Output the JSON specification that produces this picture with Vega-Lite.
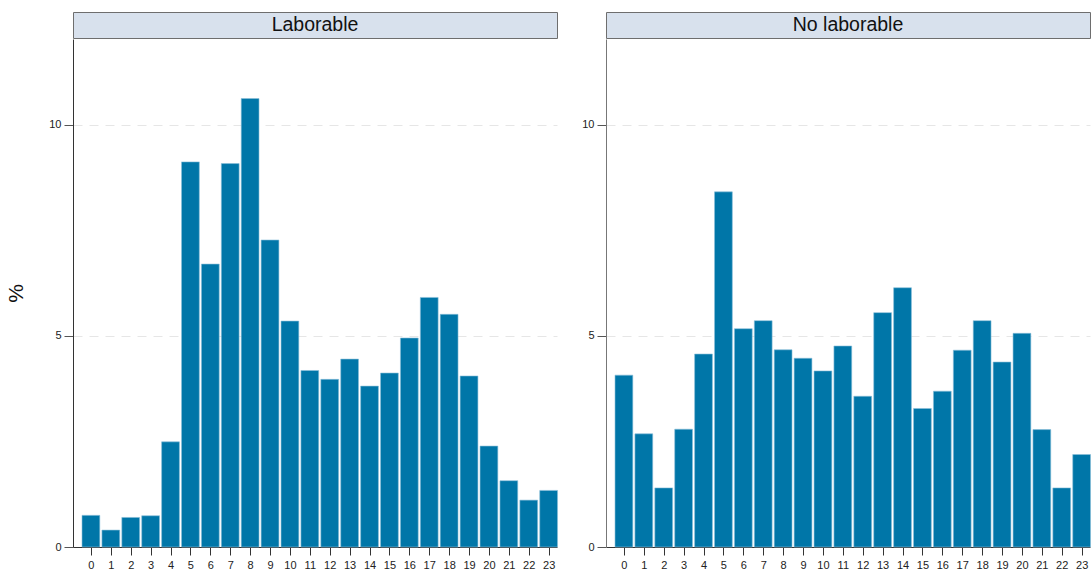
{
  "$schema": "https://vega.github.io/schema/vega-lite/v6.json",
  "padding": {"left": 5, "top": 11, "right": 0, "bottom": 0},
  "background": "white",
  "spacing": 23,
  "config": {
    "font": "Liberation Sans",
    "view": {"stroke": null},
    "concat": {"spacing": 0}
  },
  "datasets": {
    "hours": [
      {"tipo": "Laborable", "hora": 0, "pct": 0.75},
      {"tipo": "Laborable", "hora": 1, "pct": 0.40},
      {"tipo": "Laborable", "hora": 2, "pct": 0.70},
      {"tipo": "Laborable", "hora": 3, "pct": 0.74},
      {"tipo": "Laborable", "hora": 4, "pct": 2.49},
      {"tipo": "Laborable", "hora": 5, "pct": 9.12},
      {"tipo": "Laborable", "hora": 6, "pct": 6.70},
      {"tipo": "Laborable", "hora": 7, "pct": 9.08},
      {"tipo": "Laborable", "hora": 8, "pct": 10.62},
      {"tipo": "Laborable", "hora": 9, "pct": 7.27},
      {"tipo": "Laborable", "hora": 10, "pct": 5.35},
      {"tipo": "Laborable", "hora": 11, "pct": 4.18},
      {"tipo": "Laborable", "hora": 12, "pct": 3.97},
      {"tipo": "Laborable", "hora": 13, "pct": 4.45},
      {"tipo": "Laborable", "hora": 14, "pct": 3.81},
      {"tipo": "Laborable", "hora": 15, "pct": 4.12},
      {"tipo": "Laborable", "hora": 16, "pct": 4.95},
      {"tipo": "Laborable", "hora": 17, "pct": 5.91},
      {"tipo": "Laborable", "hora": 18, "pct": 5.51},
      {"tipo": "Laborable", "hora": 19, "pct": 4.05},
      {"tipo": "Laborable", "hora": 20, "pct": 2.39},
      {"tipo": "Laborable", "hora": 21, "pct": 1.57},
      {"tipo": "Laborable", "hora": 22, "pct": 1.11},
      {"tipo": "Laborable", "hora": 23, "pct": 1.34},
      {"tipo": "No laborable", "hora": 0, "pct": 4.07},
      {"tipo": "No laborable", "hora": 1, "pct": 2.68},
      {"tipo": "No laborable", "hora": 2, "pct": 1.40},
      {"tipo": "No laborable", "hora": 3, "pct": 2.79},
      {"tipo": "No laborable", "hora": 4, "pct": 4.57},
      {"tipo": "No laborable", "hora": 5, "pct": 8.41},
      {"tipo": "No laborable", "hora": 6, "pct": 5.17},
      {"tipo": "No laborable", "hora": 7, "pct": 5.36},
      {"tipo": "No laborable", "hora": 8, "pct": 4.67},
      {"tipo": "No laborable", "hora": 9, "pct": 4.47},
      {"tipo": "No laborable", "hora": 10, "pct": 4.17},
      {"tipo": "No laborable", "hora": 11, "pct": 4.76},
      {"tipo": "No laborable", "hora": 12, "pct": 3.57},
      {"tipo": "No laborable", "hora": 13, "pct": 5.55},
      {"tipo": "No laborable", "hora": 14, "pct": 6.14},
      {"tipo": "No laborable", "hora": 15, "pct": 3.28},
      {"tipo": "No laborable", "hora": 16, "pct": 3.69},
      {"tipo": "No laborable", "hora": 17, "pct": 4.66},
      {"tipo": "No laborable", "hora": 18, "pct": 5.36},
      {"tipo": "No laborable", "hora": 19, "pct": 4.38},
      {"tipo": "No laborable", "hora": 20, "pct": 5.06},
      {"tipo": "No laborable", "hora": 21, "pct": 2.78},
      {"tipo": "No laborable", "hora": 22, "pct": 1.40},
      {"tipo": "No laborable", "hora": 23, "pct": 2.19}
    ],
    "labels": [
      {"tipo": "Laborable"},
      {"tipo": "No laborable"}
    ]
  },
  "hconcat": [
    {
      "spacing": 0,
      "vconcat": [
        {
          "width": 484,
          "height": 26,
          "data": {"name": "labels"},
          "transform": [{"filter": "datum.tipo === 'Laborable'"}],
          "view": {"fill": "#d8e1ed", "stroke": "#6e6e6e", "strokeWidth": 1},
          "mark": {"type": "text", "fontSize": 19.5, "color": "#111111", "baseline": "middle", "align": "center", "font": "Liberation Sans"},
          "encoding": {"text": {"field": "tipo"}}
        },
        {
          "width": 484,
          "height": 508,
          "data": {"name": "hours"},
          "transform": [{"filter": "datum.tipo === 'Laborable'"}],
          "mark": {"type": "bar", "width": 17.8, "color": "#0076a8", "stroke": "#8cc0da", "strokeWidth": 0.6},
          "encoding": {
            "x": {
              "field": "hora", "type": "quantitative",
              "scale": {"domain": [-0.9, 23.42], "nice": false, "zero": false, "padding": 0},
              "axis": {"values": [0,1,2,3,4,5,6,7,8,9,10,11,12,13,14,15,16,17,18,19,20,21,22,23], "title": null, "grid": false, "labelFontSize": 11, "labelColor": "#222222", "tickSize": 8, "tickColor": "#333333", "domainColor": "#333333", "labelPadding": 4, "labelFlush": false, "labelOverlap": false}
            },
            "y": {
              "field": "pct", "type": "quantitative",
              "scale": {"domain": [0, 12.03], "nice": false},
              "axis": {"values": [0, 5, 10], "title": "%", "titleFontSize": 21, "titleFontWeight": "normal", "titleColor": "#111111", "titlePadding": 22, "labelFontSize": 11, "labelColor": "#222222", "tickSize": 9, "tickColor": "#555555", "domainColor": "#333333", "labelPadding": 3, "grid": true, "gridColor": "#e6e6e6", "gridDash": [9, 7], "gridWidth": 1}
            }
          }
        }
      ]
    },
    {
      "spacing": 0,
      "vconcat": [
        {
          "width": 484,
          "height": 26,
          "data": {"name": "labels"},
          "transform": [{"filter": "datum.tipo === 'No laborable'"}],
          "view": {"fill": "#d8e1ed", "stroke": "#6e6e6e", "strokeWidth": 1},
          "mark": {"type": "text", "fontSize": 19.5, "color": "#111111", "baseline": "middle", "align": "center", "font": "Liberation Sans"},
          "encoding": {"text": {"field": "tipo"}}
        },
        {
          "width": 484,
          "height": 508,
          "data": {"name": "hours"},
          "transform": [{"filter": "datum.tipo === 'No laborable'"}],
          "mark": {"type": "bar", "width": 17.8, "color": "#0076a8", "stroke": "#8cc0da", "strokeWidth": 0.6},
          "encoding": {
            "x": {
              "field": "hora", "type": "quantitative",
              "scale": {"domain": [-0.9, 23.42], "nice": false, "zero": false, "padding": 0},
              "axis": {"values": [0,1,2,3,4,5,6,7,8,9,10,11,12,13,14,15,16,17,18,19,20,21,22,23], "title": null, "grid": false, "labelFontSize": 11, "labelColor": "#222222", "tickSize": 8, "tickColor": "#333333", "domainColor": "#333333", "labelPadding": 4, "labelFlush": false, "labelOverlap": false}
            },
            "y": {
              "field": "pct", "type": "quantitative",
              "scale": {"domain": [0, 12.03], "nice": false},
              "axis": {"values": [0, 5, 10], "title": null, "labelFontSize": 11, "labelColor": "#222222", "tickSize": 9, "tickColor": "#555555", "domainColor": "#777777", "labelPadding": 3, "grid": true, "gridColor": "#e6e6e6", "gridDash": [9, 7], "gridWidth": 1}
            }
          }
        }
      ]
    }
  ]
}
